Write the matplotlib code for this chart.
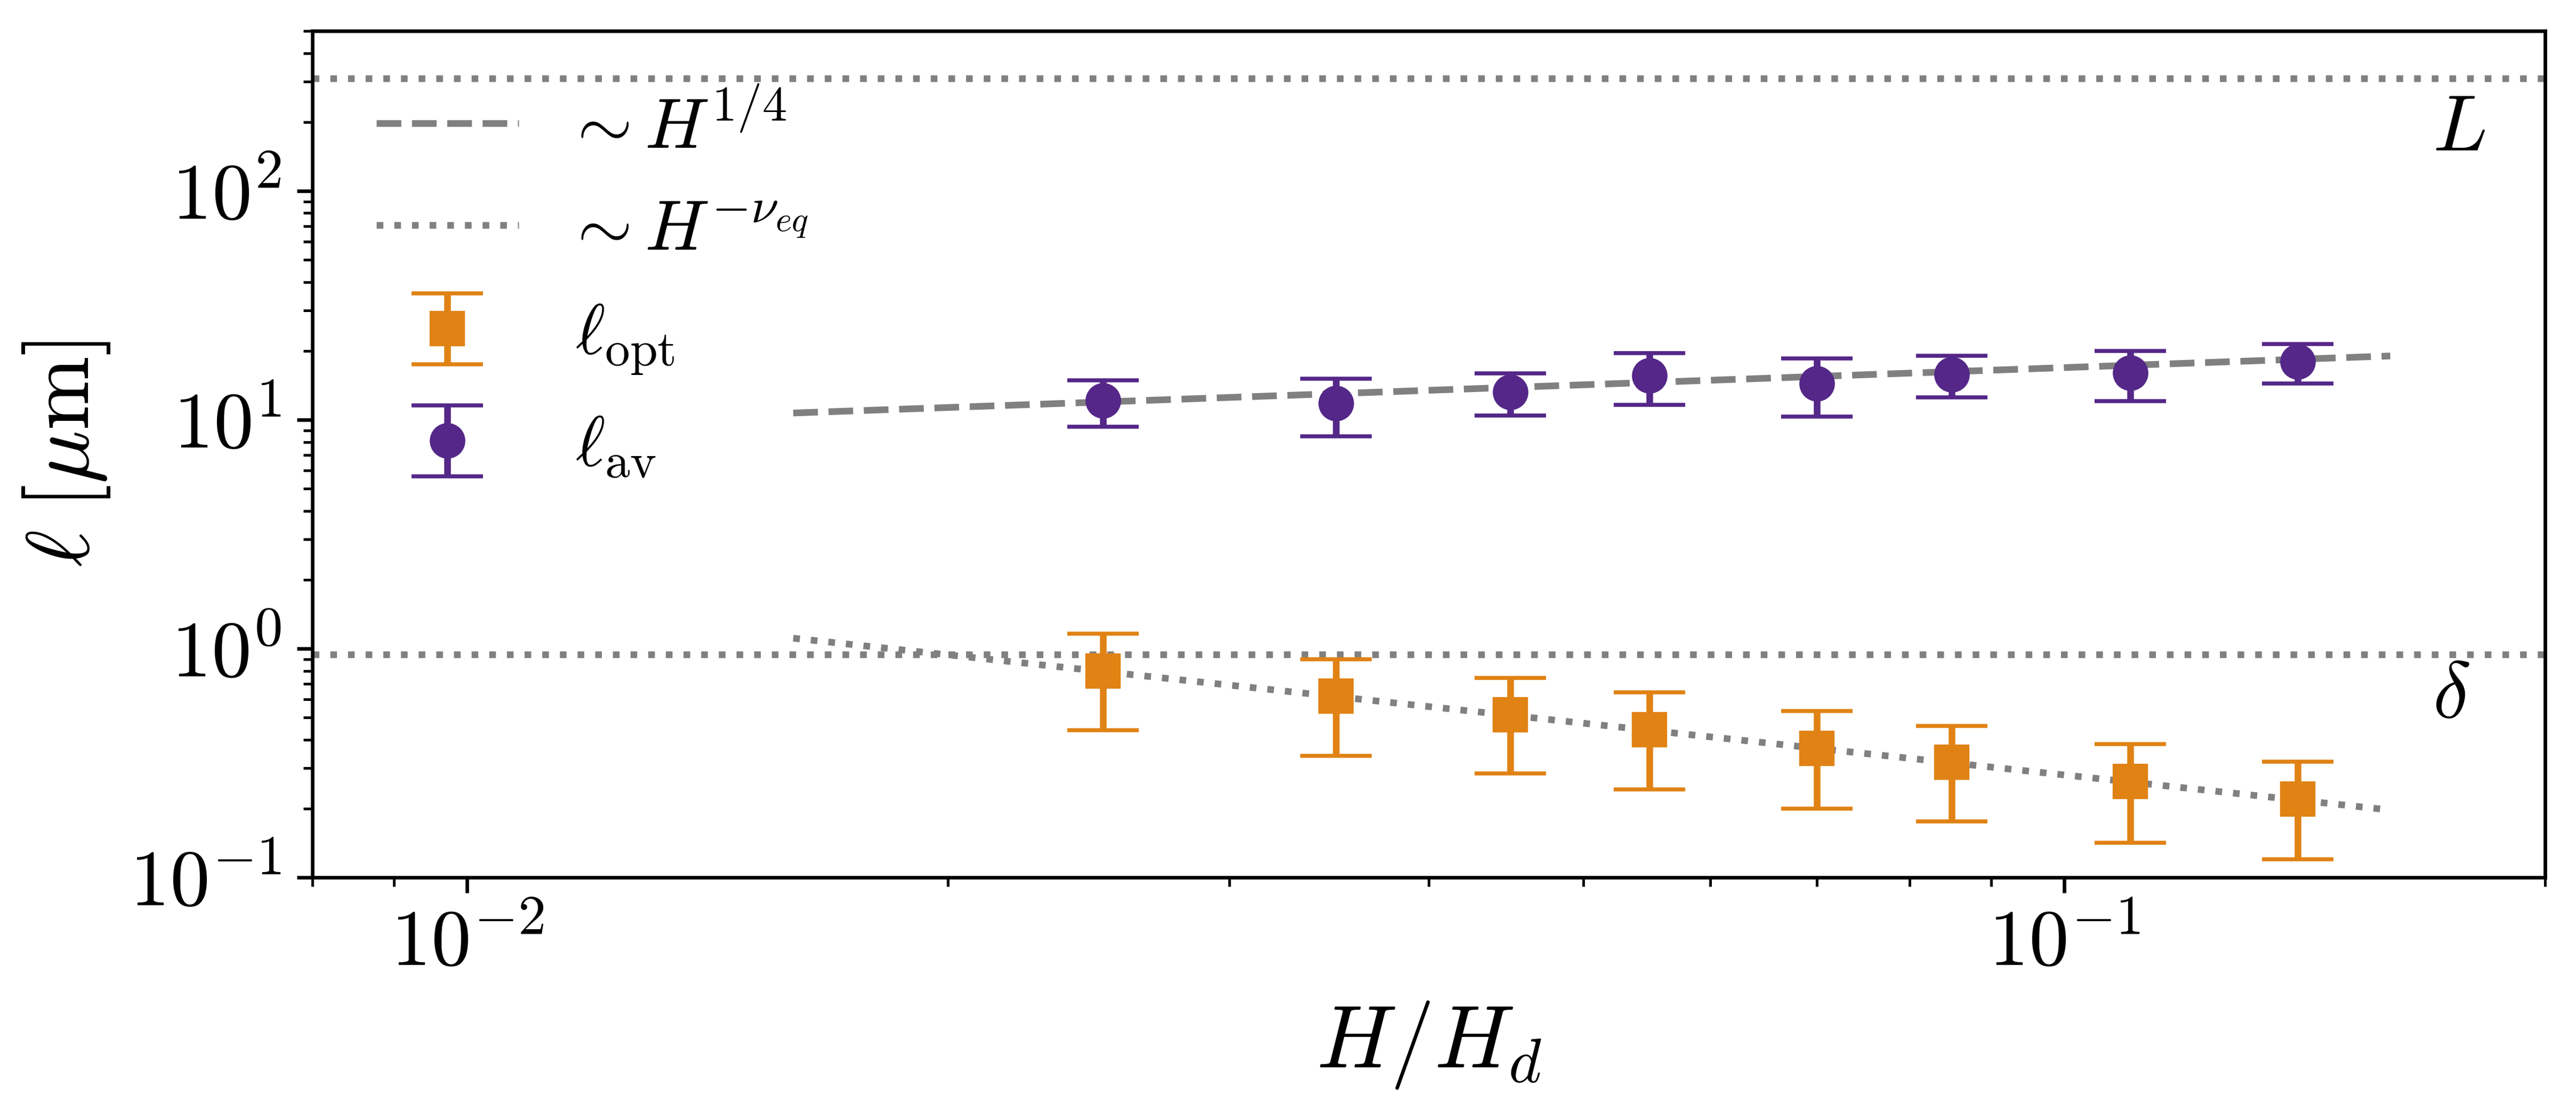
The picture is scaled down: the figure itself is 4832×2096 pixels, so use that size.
import matplotlib
matplotlib.use('Agg')
import matplotlib.pyplot as plt

plt.rcParams['mathtext.fontset'] = 'cm'
plt.rcParams['font.family'] = 'serif'
plt.rcParams['font.serif'] = ['cmr10', 'DejaVu Serif']
plt.rcParams['axes.formatter.use_mathtext'] = True

# data
H = [0.025, 0.035, 0.045, 0.055, 0.07, 0.085, 0.11, 0.14]
l_opt = [0.80, 0.62, 0.515, 0.443, 0.367, 0.318, 0.262, 0.220]
l_opt_err = [0.36, 0.28, 0.23, 0.20, 0.167, 0.142, 0.12, 0.10]
l_av = [12.1, 11.8, 13.2, 15.6, 14.4, 15.8, 16.0, 17.9]
l_av_err = [2.8, 3.35, 2.77, 4.0, 4.1, 3.25, 3.95, 3.5]

# power-law guides (straight in log-log, given by their end points)
fit_H = [0.016, 0.16]
fit_av = [10.7, 19.0]
fit_opt = [1.11, 0.197]

L_size = 310.0
delta = 0.94

orange = '#e08214'
purple = '#542788'

fig = plt.figure(figsize=(4832 / 600, 2096 / 600), dpi=600)
fig.subplots_adjust(left=0.1213, right=0.988, bottom=0.2152, top=0.9723)
ax = fig.add_subplot(111)

ax.axhline(L_size, ls=':', color='gray', lw=1.5)
ax.axhline(delta, ls=':', color='gray', lw=1.5)
ax.plot(fit_H, fit_av, '--', color='gray', lw=1.5, label=r'$\!\sim H^{1/4}$')
ax.plot(fit_H, fit_opt, ':', color='gray', lw=1.5, label=r'$\!\sim H^{-\nu_{eq}}$')

ax.errorbar(H, l_opt, yerr=l_opt_err, fmt='s', color=orange, ms=7,
            capsize=8, elinewidth=1.5, capthick=0.9, label=r'$\ell_{\mathrm{opt}}$')
ax.errorbar(H, l_av, yerr=l_av_err, fmt='o', color=purple, ms=7,
            capsize=8, elinewidth=1.5, capthick=0.9, label=r'$\ell_{\mathrm{av}}$')

ax.text(0.17, 150, r'$L$', fontsize=18, ha='left', va='baseline')
ax.text(0.17, 0.5, r'$\delta$', fontsize=18, ha='left', va='baseline')

ax.set_xscale('log')
ax.set_yscale('log')
ax.set_xlim(0.008, 0.2)
ax.set_ylim(0.1, 500)
ax.tick_params(labelsize=18)

ax.set_xlabel(r'$H/H_d$', fontsize=20)
ax.set_ylabel(r'$\ell\;[\mu\mathrm{m}]$', fontsize=20)

ax.legend(loc='upper left', frameon=False, fontsize=16, labelspacing=0.54)

plt.savefig('out.png', dpi=600)
